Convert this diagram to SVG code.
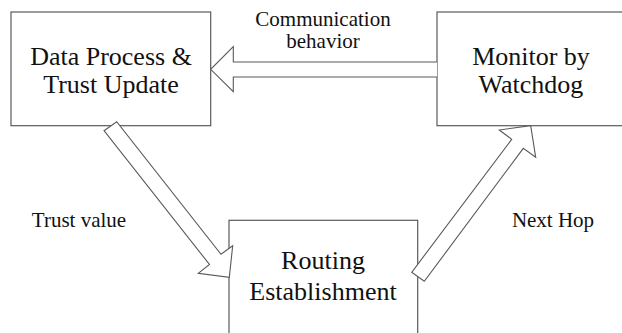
<svg xmlns="http://www.w3.org/2000/svg" width="622" height="333" viewBox="0 0 622 333">
  <style>
    .box { fill: #ffffff; stroke: #5a5a5a; stroke-width: 1.2; }
    .arrow { fill: #ffffff; stroke: #5a5a5a; stroke-width: 1.1; stroke-linejoin: miter; }
    .node-text { font-family: "Liberation Serif", "Times New Roman", serif; font-size: 26px; fill: #111111; text-anchor: middle; }
    .label { font-family: "Liberation Serif", "Times New Roman", serif; font-size: 21px; fill: #111111; text-anchor: middle; }
  </style>
  <rect width="622" height="333" fill="#ffffff"/>

  <g id="node-data-process">
    <rect class="box" x="11" y="12" width="199.7" height="113.7"/>
    <text class="node-text" x="111" y="64.5">Data Process &amp;</text>
    <text class="node-text" x="111" y="92.5">Trust Update</text>
  </g>

  <g id="node-monitor">
    <rect class="box" x="437" y="12" width="188" height="113.7"/>
    <text class="node-text" x="531" y="65">Monitor by</text>
    <text class="node-text" x="531" y="92.5">Watchdog</text>
  </g>

  <g id="node-routing">
    <rect class="box" x="229" y="220.3" width="188.7" height="130"/>
    <text class="node-text" x="323" y="268.5">Routing</text>
    <text class="node-text" x="323" y="300">Establishment</text>
  </g>

  <g id="connectors">
    <!-- Monitor -> Data Process (block arrow pointing left) -->
    <polyline class="arrow" points="437,62 233.3,62 233.3,46.7 210.7,69.3 233.3,91.7 233.3,77 437,77"/>
    <!-- Data Process -> Routing -->
    <polygon class="arrow" points="104,130.7 116.7,121.7 221,254.3 232.7,245.7 229.3,277.3 198.3,273.3 209.5,264.5"/>
    <!-- Routing -> Monitor -->
    <polygon class="arrow" points="411.7,272.3 424.3,281.3 523.3,148.3 535.7,157.3 530.7,125.7 499.3,130 511.7,139.3"/>
  </g>

  <g id="labels">
    <text class="label" x="323" y="26">Communication</text>
    <text class="label" x="323" y="48">behavior</text>
    <text class="label" x="79" y="226.5">Trust value</text>
    <text class="label" x="553" y="226.5">Next Hop</text>
  </g>
</svg>
